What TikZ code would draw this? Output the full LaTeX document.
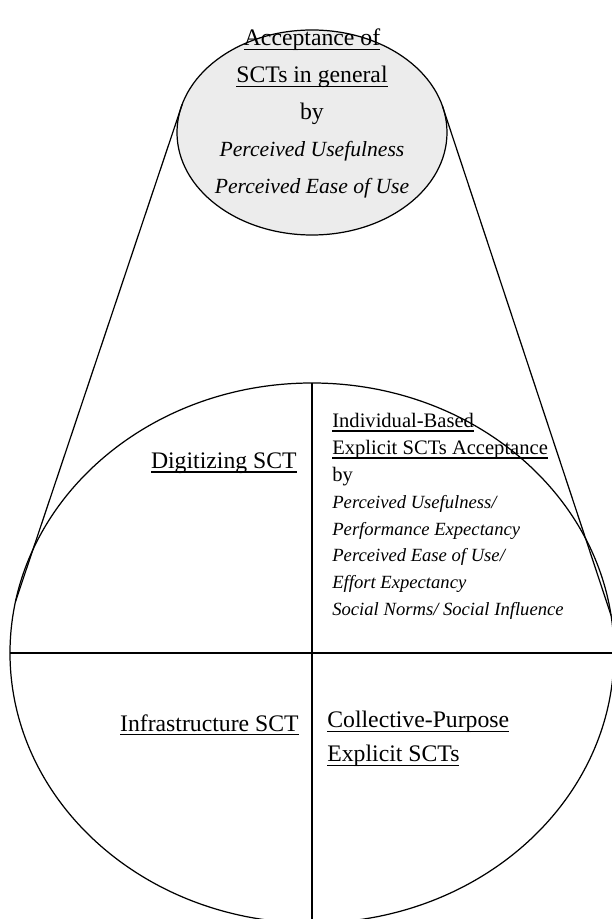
\documentclass[tikz,border=0pt]{standalone}
\usepackage{fontspec}
\setmainfont{Liberation Serif}
\usetikzlibrary{positioning,calc}
\newlength\undlwd
\newcommand{\undl}[1]{\settowidth{\undlwd}{#1}\rlap{#1}\rule[-2.4pt]{\undlwd}{0.75pt}}

\begin{document}
\begin{tikzpicture}[
	every node/.style={inner sep=0pt},
	outline/.style={line width=0.7pt},
	bigtext/.style={font=\fontsize{13.5}{19.3}\selectfont},
	toptext/.style={font=\fontsize{13.5}{21}\selectfont, align=center},
	smalltext/.style={font=\fontsize{11.7}{15.3}\selectfont, align=left}]
		\useasboundingbox (-6.24,-5.32) rectangle (6.0,13.06);
		\clip (-6.24,-5.32) rectangle (6.0,13.06);
		% general acceptance
		\draw[outline, fill=gray!15] (0,10.41) ellipse (2.7cm and 2.05cm);
		\coordinate (gl) at ($(0,10.41)+(164:2.7 and 2.05)$);
		\coordinate (gr) at ($(0,10.41)+(15:2.7 and 2.05)$);
		% the four kinds of SCT
		\draw[outline] (0,0) ellipse (6.04cm and 5.4cm);
		\coordinate (kl) at (169:6.04 and 5.4);
		\coordinate (kr) at (8:6.04 and 5.4);
		\coordinate (ktop) at (0,5.4);
		\coordinate (kbot) at (0,-5.4);
		\coordinate (kwest) at (-6.04,0);
		\coordinate (keast) at (6.04,0);
		\draw[outline] (ktop)--(kbot);
		\draw[outline] (kwest)--(keast);
		\draw[outline] (gl)--(kl);
		\draw[outline] (gr)--(kr);
		\node[toptext] (general) at (0,10.79)
			{\undl{Acceptance of}\\ \undl{SCTs in general}\\ by\\
			{\fontsize{12.3}{21}\selectfont\itshape Perceived Usefulness}\\
			{\fontsize{12.3}{21}\selectfont\itshape Perceived Ease of Use}};
		\node[bigtext, anchor=east] (digit) at (-0.3,3.8) {\undl{Digitizing SCT}};
		\node[smalltext, anchor=west] (indiv) at (0.4,2.73)
			{\undl{Individual-Based}\\ \undl{Explicit SCTs Acceptance}\\ by\\
			{\fontsize{10.6}{15.3}\selectfont\itshape Perceived Usefulness/}\\
			{\fontsize{10.6}{15.3}\selectfont\itshape Performance Expectancy}\\
			{\fontsize{10.6}{15.3}\selectfont\itshape Perceived Ease of Use/}\\
			{\fontsize{10.6}{15.3}\selectfont\itshape Effort Expectancy}\\
			{\fontsize{10.6}{15.3}\selectfont\itshape Social Norms/ Social Influence}};
		\node[bigtext, anchor=east] (infra) at (-0.26,-1.44) {\undl{Infrastructure SCT}};
		\node[bigtext, align=left, anchor=west] (collect) at (0.3,-1.72)
			{\undl{Collective-Purpose}\\ \undl{Explicit SCTs}};
%		\node[bigtext] at (0,-4) {};
	\end{tikzpicture}
\end{document}
